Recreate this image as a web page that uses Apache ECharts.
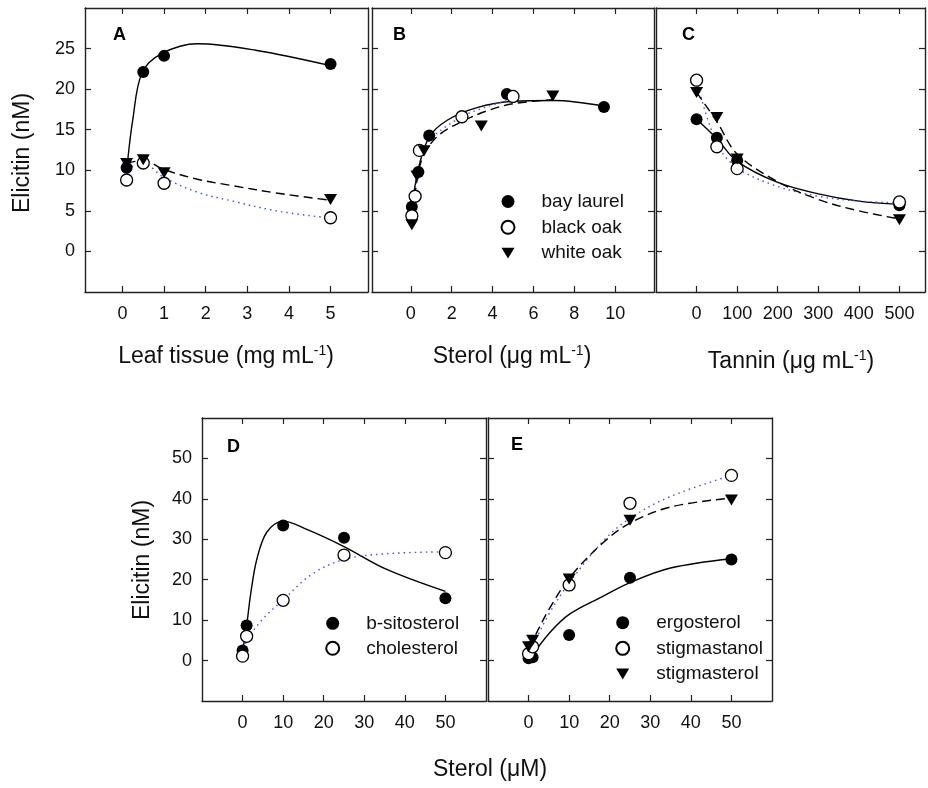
<!DOCTYPE html>
<html><head><meta charset="utf-8">
<script src="https://cdn.jsdelivr.net/npm/echarts@6/dist/echarts.min.js"></script>
<style>html,body{margin:0;padding:0;background:#fff}#c{width:928px;height:788px}</style>
</head><body><div id="c"></div>
<script>
// ---------- data ----------
// Panel A: leaf tissue (mg/mL)
const aX = [0.1, 0.5, 1, 5];
const aBay = [10.3, 22.1, 24.1, 23.1];
const aBlack = [8.8, 10.9, 8.4, 4.15];
const aWhite = [10.85, 11.3, 9.7, 6.4];
const fitA_bay = [[0.12,10.9],[0.25,16.3],[0.47,22.0],[0.95,24.4],[1.8,25.6],[3.2,24.8],[5,22.9]];
const fitA_black = [[0.1,10.2],[0.5,10.8],[1,9.1],[1.8,7.3],[2.65,6.2],[3.7,5.0],[5,4.1]];
const fitA_white = [[0.1,10.9],[0.5,11.2],[1,10.1],[1.8,8.9],[2.65,8.1],[3.7,7.2],[5,6.3]];
// Panel B: sterol (ug/mL)
const bBayX = [0.05, 0.37, 0.9, 4.7, 9.45];
const bBay = [5.5, 9.8, 14.3, 19.4, 17.8];
const bBlackX = [0.05, 0.21, 0.42, 2.5, 5.0];
const bBlack = [4.4, 6.8, 12.45, 16.6, 19.1];
const bWhiteX = [0.05, 0.3, 0.65, 3.45, 6.95];
const bWhite = [3.3, 9.3, 12.4, 15.45, 19.15];
const fitB_bay = [[0.05,5.3],[0.37,10.2],[0.9,14.1],[1.8,16.2],[3.2,17.7],[5,18.5],[7,18.6],[9.45,17.9]];
const fitB_black = [[0.05,4.3],[0.21,7.3],[0.45,11.2],[1,13.9],[2.5,16.6],[3.7,17.8],[5,18.8]];
const fitB_white = [[0.05,3.3],[0.3,8.8],[0.65,12.0],[1.4,14.4],[2.5,16.0],[3.7,17.3],[5,18.2],[6.95,18.7]];
// Panel C: tannin (ug/mL)
const cX = [0, 50, 100, 500];
const cBay = [16.3, 14.0, 11.2, 5.7];
const cBlack = [21.1, 12.9, 10.2, 6.1];
const cWhite = [19.6, 16.5, 11.4, 3.9];
const fitC_bay = [[0,16.3],[50,13.9],[100,11.1],[200,8.5],[300,7.1],[400,6.2],[500,5.8]];
const fitC_black = [[0,21.0],[50,13.3],[100,10.3],[200,8.0],[300,6.8],[400,6.2],[500,6.0]];
const fitC_white = [[0,19.6],[50,16.0],[100,12.0],[200,8.6],[300,6.4],[400,5.0],[500,4.0]];
// Panel D: sterol (uM)
const dX = [0, 1, 10, 25, 50];
const dSito = [2.5, 8.7, 33.4, 30.4, 15.4];
const dChol = [1.1, 6.0, 14.9, 26.1, 26.7];
const fitD_sito = [[0,2.3],[1,8.6],[2,16.5],[3.5,25.0],[6,31.8],[10,34.5],[16,32.4],[25,28.2],[35.4,22.6],[50,17.1]];
const fitD_chol = [[0,1.5],[1,4.8],[5,10.3],[10,15.0],[17,21.3],[25,25.0],[35,26.4],[50,26.9]];
// Panel E: sterol (uM)
const eX = [0, 1, 10, 25, 50];
const eErgo = [0.6, 0.8, 6.35, 20.5, 25.0];
const eStanol = [1.7, 3.4, 18.7, 38.9, 45.8];
const eSterol = [3.4, 5.0, 20.2, 34.7, 39.7];
const fitE_ergo = [[0.5,0.7],[5.2,6.9],[10.1,11.5],[18.3,15.9],[25,19.3],[35,22.9],[50,25.2]];
const fitE_stanol = [[0,1.7],[1,3.6],[5,11.5],[10.1,19.3],[18.3,29.5],[25,35.2],[35,40.6],[50,45.8]];
const fitE_sterol = [[0,3.4],[1,5.0],[5,12.6],[10.1,20.5],[18.3,29.1],[25,34.0],[35,38.0],[50,40.2]];
// tick labels
const ticksA = [0,1,2,3,4,5];
const ticksB = [0,2,4,6,8,10];
const ticksC = [0,100,200,300,400,500];
const ticksTopY = [0,5,10,15,20,25];
const ticksBotX = [0,10,20,30,40,50];
const ticksBotY = [0,10,20,30,40,50];

// ---------- chart ----------
const FONT = 'Liberation Sans, Arial, sans-serif';
const AX = '#222';
const tri = 'path://M0,0L12,0L6,10Z';

const grids = [
  {left:85, top:8, width:283, height:284},
  {left:372, top:8, width:282, height:284},
  {left:656, top:8, width:269, height:284},
  {left:202, top:418, width:284, height:283},
  {left:488, top:418, width:284, height:283}
].map(g => Object.assign({outerBoundsMode:'none', containLabel:false}, g));

const xRanges = [[-0.9,5.9],[-1.9,11.9],[-100,563],[-10,60],[-10,60]];
const yRanges = [[-5,30],[-5,30],[-5,30],[-10,60],[-10,60]];
const xTicks = [ticksA, ticksB, ticksC, ticksBotX, ticksBotX];
const yTicks = [ticksTopY, ticksTopY, ticksTopY, ticksBotY, ticksBotY];
const showYLab = [true,false,false,true,false];

const xAxis = [], yAxis = [];
for (let g = 0; g < 5; g++) {
  ['bottom','top'].forEach((pos, k) => {
    xAxis.push({
      gridIndex:g, type:'value', position:pos, min:xRanges[g][0], max:xRanges[g][1],
      axisLine:{show:true, onZero:false, lineStyle:{color:AX, width:1.4}},
      axisTick:{show:true, inside:true, length:6, customValues:xTicks[g], lineStyle:{color:AX, width:1.2}},
      axisLabel:{show:k===0, customValues:xTicks[g], margin:13, fontSize:18, fontFamily:FONT, color:'#111'},
      splitLine:{show:false}
    });
  });
  ['left','right'].forEach((pos, k) => {
    yAxis.push({
      gridIndex:g, type:'value', position:pos, min:yRanges[g][0], max:yRanges[g][1],
      axisLine:{show:true, onZero:false, lineStyle:{color:AX, width:1.4}},
      axisTick:{show:true, inside:true, length:6, customValues:yTicks[g], lineStyle:{color:AX, width:1.2}},
      axisLabel:{show:k===0 && showYLab[g], customValues:yTicks[g], margin:10, fontSize:18, fontFamily:FONT, color:'#111'},
      splitLine:{show:false}
    });
  });
}

const pair = (xs, ys) => xs.map((x, i) => [x, ys[i]]);
const series = [];
function curve(g, name, data, kind) {
  const ls = kind === 'solid' ? {color:'#000', width:1.4, type:'solid'}
           : kind === 'dash' ? {color:'#000', width:1.4, type:[9,5]}
           : {color:'#4a4aff', width:1.4, type:[1.5,4]};
  series.push({type:'line', name, xAxisIndex:2*g, yAxisIndex:2*g, data, smooth:0.35,
    showSymbol:false, symbol:'none', lineStyle:ls, z:2, silent:true});
}
function pts(g, name, data, kind) {
  const s = {type:'scatter', name, xAxisIndex:2*g, yAxisIndex:2*g, data, z:5, silent:true};
  if (kind === 'fill') { s.symbol='circle'; s.symbolSize=12; s.itemStyle={color:'#000', opacity:1}; s.z=5; }
  else if (kind === 'open') { s.symbol='circle'; s.symbolSize=12; s.itemStyle={color:'#fff', borderColor:'#000', borderWidth:1.3, opacity:1}; s.z=6; }
  else { s.symbol=tri; s.symbolSize=[13,11]; s.itemStyle={color:'#000', opacity:1}; s.z=7; }
  series.push(s);
}
// A
curve(0,'fitA bay',fitA_bay,'solid'); curve(0,'fitA black',fitA_black,'dot'); curve(0,'fitA white',fitA_white,'dash');
pts(0,'bay laurel',pair(aX,aBay),'fill'); pts(0,'black oak',pair(aX,aBlack),'open'); pts(0,'white oak',pair(aX,aWhite),'tri');
// B
curve(1,'fitB bay',fitB_bay,'solid'); curve(1,'fitB black',fitB_black,'dot'); curve(1,'fitB white',fitB_white,'dash');
pts(1,'bay laurel',pair(bBayX,bBay),'fill'); pts(1,'black oak',pair(bBlackX,bBlack),'open'); pts(1,'white oak',pair(bWhiteX,bWhite),'tri');
// C
curve(2,'fitC bay',fitC_bay,'solid'); curve(2,'fitC black',fitC_black,'dot'); curve(2,'fitC white',fitC_white,'dash');
pts(2,'bay laurel',pair(cX,cBay),'fill'); pts(2,'black oak',pair(cX,cBlack),'open'); pts(2,'white oak',pair(cX,cWhite),'tri');
// D
curve(3,'fitD sito',fitD_sito,'solid'); curve(3,'fitD chol',fitD_chol,'dot');
pts(3,'b-sitosterol',pair(dX,dSito),'fill'); pts(3,'cholesterol',pair(dX,dChol),'open');
// E
curve(4,'fitE ergo',fitE_ergo,'solid'); curve(4,'fitE stanol',fitE_stanol,'dot'); curve(4,'fitE sterol',fitE_sterol,'dash');
pts(4,'ergosterol',pair(eX,eErgo),'fill'); pts(4,'stigmastanol',pair(eX,eStanol),'open'); pts(4,'stigmasterol',pair(eX,eSterol),'tri');

function legendAt(names, left, top, gap) {
  return {data:names, left, top, padding:0, orient:'vertical', itemWidth:13, itemHeight:13, itemGap:gap,
    selectedMode:false, textStyle:{fontSize:19, fontFamily:FONT, color:'#111', lineHeight:20, padding:[0,0,0,22]}};
}
const legend = [
  legendAt(['bay laurel','black oak','white oak'], 500.5, 191.5, 5.8),
  legendAt(['b-sitosterol','cholesterol'], 325.2, 613.3, 5),
  legendAt(['ergosterol','stigmastanol','stigmasterol'], 615.2, 612.7, 5.65)
];

function txt(x, y, text, size, opts) {
  return Object.assign({type:'text', x, y, silent:true,
    style:{text, fontSize:size, fontFamily:FONT, fill:'#111', align:'center', verticalAlign:'middle'}}, opts || {});
}
function supTxt(x, y, before, sup, after) {
  return {type:'text', x, y, silent:true, style:{
    text:'{a|' + before + '}{s|' + sup + '}{a|' + after + '}',
    align:'center', verticalAlign:'middle', fill:'#111',
    rich:{a:{fontSize:23, fontFamily:FONT, fill:'#111', lineHeight:25},
          s:{fontSize:14, fontFamily:FONT, fill:'#111', verticalAlign:'top', lineHeight:14}}
  }};
}
const bold = (x, y, t) => ({type:'text', x, y, silent:true, style:{text:t, fontSize:18, fontWeight:'bold', fontFamily:FONT, fill:'#000', align:'left', verticalAlign:'middle'}});

const graphic = [
  bold(113, 35, 'A'), bold(393, 35, 'B'), bold(682, 35, 'C'), bold(227, 447, 'D'), bold(511, 445, 'E'),
  txt(22.5, 153, 'Elicitin (nM)', 23, {rotation:Math.PI/2}),
  txt(142.5, 560, 'Elicitin (nM)', 23, {rotation:Math.PI/2}),
  supTxt(226, 357, 'Leaf tissue (mg mL', '-1', ')'),
  supTxt(512, 357, 'Sterol (\u03bcg mL', '-1', ')'),
  supTxt(791, 362, 'Tannin (\u03bcg mL', '-1', ')'),
  txt(490, 770, 'Sterol (\u03bcM)', 23)
];

const chart = echarts.init(document.getElementById('c'));
chart.setOption({animation:false, backgroundColor:'#fff', grid:grids, xAxis, yAxis, series, legend, graphic});
</script></body></html>
